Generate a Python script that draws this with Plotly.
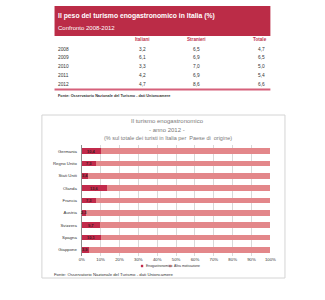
import plotly.graph_objects as go

# ---- data ----
years = ["2008", "2009", "2010", "2011", "2012"]
italiani = ["3,2", "6,1", "3,3", "4,2", "4,7"]
stranieri = ["6,5", "6,9", "7,0", "6,9", "8,6"]
totale = ["4,7", "6,5", "5,0", "5,4", "6,6"]
col_headers = ["Italiani", "Stranieri", "Totale"]

countries = ["Germania", "Regno Unito", "Stati Uniti", "Olanda", "Francia",
             "Austria", "Svizzera", "Spagna", "Giappone"]
eno = [10.4, 7.3, 3.4, 13.6, 7.3, 2.3, 9.7, 10.1, 3.9]
altra = [round(100 - v, 1) for v in eno]
x_ticks = [0, 10, 20, 30, 40, 50, 60, 70, 80, 90, 100]

W, H = 325, 300
NARROW = "Liberation Sans Narrow, Arial Narrow, Liberation Sans, Arial"
DARK = "#C22A4B"
LIGHT = "#E3878A"
HEADER = "#BB2C47"

def px(x):
    return x / W

def py(y):
    return 1 - y / H

fig = go.Figure()
fig.add_trace(go.Bar(y=countries, x=eno, orientation="h", name="Enogastronomico",
                     marker=dict(color=DARK, line=dict(width=0)), showlegend=False,
                     hoverinfo="x+y"))
fig.add_trace(go.Bar(y=countries, x=altra, orientation="h", name="Altra motivazione",
                     marker=dict(color=LIGHT, line=dict(width=0)), showlegend=False,
                     hoverinfo="x+y"))

shapes = []
annotations = []

# chart box
shapes.append(dict(type="rect", xref="paper", yref="paper",
                   x0=px(40), x1=px(290), y0=py(278), y1=py(115),
                   line=dict(color="#D4D4D4", width=1), fillcolor="rgba(0,0,0,0)", layer="below"))

# table header band
shapes.append(dict(type="rect", xref="paper", yref="paper",
                   x0=px(53), x1=px(275), y0=py(36), y1=py(6),
                   line=dict(width=0), fillcolor=HEADER, layer="below"))
annotations.append(dict(xref="paper", yref="paper", x=px(55), y=py(16), xanchor="left",
                        yanchor="middle", showarrow=False,
                        text="<b>Il peso del turismo enogastronomico in Italia (%)</b>",
                        font=dict(family=NARROW, size=6.8, color="white")))
annotations.append(dict(xref="paper", yref="paper", x=px(55), y=py(28), xanchor="left",
                        yanchor="middle", showarrow=False, text="Confronto 2008-2012",
                        font=dict(family=NARROW, size=6, color="white")))

# table column headers
col_x = [143, 199, 274]
col_anchor = ["center", "center", "right"]
for h, cx, an in zip(col_headers, col_x, col_anchor):
    annotations.append(dict(xref="paper", yref="paper", x=px(cx), y=py(40), xanchor=an,
                            yanchor="middle", showarrow=False, text="<b>" + h + "</b>",
                            font=dict(family=NARROW, size=4.6, color="#C0304E")))

# table rows
row_y0, row_dy = 49, 8.8
for i, yr in enumerate(years):
    yy = row_y0 + i * row_dy
    annotations.append(dict(xref="paper", yref="paper", x=px(55), y=py(yy), xanchor="left",
                            yanchor="middle", showarrow=False, text=yr,
                            font=dict(family=NARROW, size=4.8, color="#333333")))
    for vals, cx, an in zip([italiani, stranieri, totale], [143, 199, 272],
                            ["center", "center", "right"]):
        annotations.append(dict(xref="paper", yref="paper", x=px(cx), y=py(yy), xanchor=an,
                                yanchor="middle", showarrow=False, text=vals[i],
                                font=dict(family=NARROW, size=4.8, color="#333333")))

# pink line under table
shapes.append(dict(type="line", xref="paper", yref="paper", x0=px(53), x1=px(275),
                   y0=py(89.5), y1=py(89.5), line=dict(color="#D6607A", width=2)))
annotations.append(dict(xref="paper", yref="paper", x=px(55), y=py(96), xanchor="left",
                        yanchor="middle", showarrow=False,
                        text="<b>Fonte: Osservatorio Nazionale del Turismo - dati Unioncamere</b>",
                        font=dict(family=NARROW, size=3.8, color="#333333")))

# chart titles
annotations.append(dict(xref="paper", yref="paper", x=px(169), y=py(121), xanchor="center",
                        yanchor="middle", showarrow=False, text="Il turismo enogastronomico",
                        font=dict(family=NARROW, size=6, color="#7A7A7A")))
annotations.append(dict(xref="paper", yref="paper", x=px(169), y=py(129.5), xanchor="center",
                        yanchor="middle", showarrow=False, text="- anno 2012 -",
                        font=dict(family=NARROW, size=6, color="#7A7A7A")))
annotations.append(dict(xref="paper", yref="paper", x=px(170), y=py(138), xanchor="center",
                        yanchor="middle", showarrow=False,
                        text="(% sul totale dei turisti in Italia per  Paese di  origine)",
                        font=dict(family=NARROW, size=5.5, color="#7A7A7A")))

# bar value labels (data coordinates)
for c, v in zip(countries, eno):
    annotations.append(dict(xref="x", yref="y", x=v / 2, y=c, xanchor="center",
                            yanchor="middle", showarrow=False,
                            text="<b>" + f"{v:.1f}".replace(".", ",") + "</b>",
                            font=dict(family=NARROW, size=4, color="#3A1A20")))

# manual legend
for lx, col, label in [(143, DARK, "Enogastronomico"), (172, LIGHT, "Altra motivazione")]:
    shapes.append(dict(type="rect", xref="paper", yref="paper",
                       x0=px(lx - 1.2), x1=px(lx + 1.2), y0=py(267.2), y1=py(264.8),
                       line=dict(width=0), fillcolor=col))
    annotations.append(dict(xref="paper", yref="paper", x=px(lx + 2.2), y=py(266),
                            xanchor="left", yanchor="middle", showarrow=False, text=label,
                            font=dict(family=NARROW, size=3.4, color="#333333")))

# source under chart
annotations.append(dict(xref="paper", yref="paper", x=px(50), y=py(274), xanchor="left",
                        yanchor="middle", showarrow=False,
                        text="Fonte: Osservatorio Nazionale del Turismo - dati Unioncamere",
                        font=dict(family=NARROW, size=4.3, color="#333333")))

fig.update_layout(
    width=W, height=H,
    margin=dict(l=0, r=0, t=0, b=0),
    paper_bgcolor="white", plot_bgcolor="white",
    barmode="stack", bargap=0.55,
    xaxis=dict(domain=[px(81), px(275)], range=[0, 100], tickvals=x_ticks,
               ticktext=[f"{t}%" for t in x_ticks], showgrid=True,
               gridcolor="#D9D9D9", gridwidth=1, zeroline=False,
               showline=False, ticks="", tickfont=dict(family=NARROW, size=4.3, color="#333333"),
               fixedrange=True),
    yaxis=dict(domain=[py(256), py(145)], autorange="reversed", showgrid=False,
               showline=True, linecolor="#8C8C8C", linewidth=1, ticks="",
               tickfont=dict(family=NARROW, size=4.3, color="#333333"),
               ticklabelstandoff=3, fixedrange=True),
    shapes=shapes, annotations=annotations,
    showlegend=False,
)

fig.write_html("out.html")
